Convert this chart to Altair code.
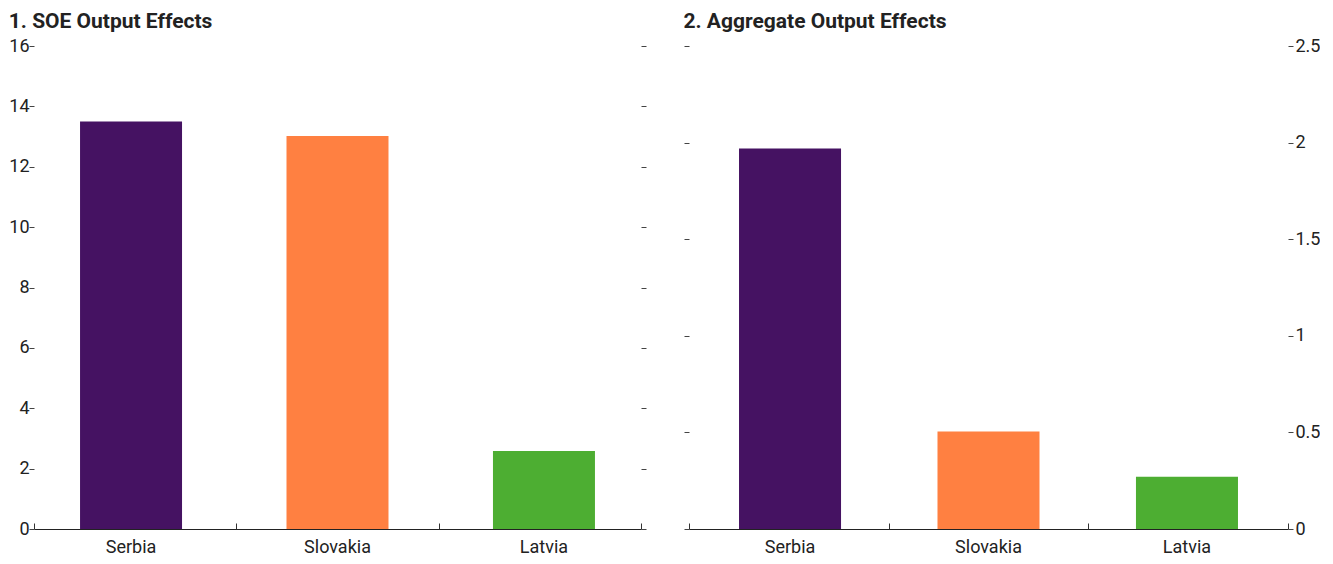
import altair as alt
import pandas as pd

categories = ["Serbia", "Slovakia", "Latvia"]
soe_effects = [13.5, 13.02, 2.58]
aggregate_effects = [1.97, 0.505, 0.27]
bar_colors = ["#451262", "#FF8041", "#4DAE32"]

FONT = "Roboto"
H = 483


def panel(values, title, ymax, step, width, labels_left, pin, pout, lpad):
    df = pd.DataFrame({"country": categories, "value": values})
    base = alt.Chart(df)
    xscale = alt.Scale(paddingInner=pin, paddingOuter=pout)
    yscale = alt.Scale(domain=[0, ymax], nice=False)
    ticks = [round(i * step, 2) for i in range(int(round(ymax / step)) + 1)]
    bars = base.mark_bar().encode(
        x=alt.X("country:N", sort=categories, scale=xscale,
                axis=alt.Axis(title=None, ticks=False, domainColor="#222",
                              domainWidth=1, labelPadding=9, labelAngle=0)),
        y=alt.Y("value:Q", scale=yscale,
                axis=alt.Axis(orient="left", values=ticks, labels=labels_left,
                              title=None, grid=False, domain=False, format="~g",
                              tickSize=5, labelPadding=lpad)),
        color=alt.Color("country:N", scale=alt.Scale(domain=categories, range=bar_colors),
                        legend=None),
    )
    ghost = base.mark_bar(opacity=0).encode(
        x=alt.X("country:N", sort=categories,
                scale=alt.Scale(paddingInner=0, paddingOuter=0),
                axis=alt.Axis(orient="top", offset=-H, labels=False, domain=False,
                              ticks=True, tickBand="extent", tickSize=6, title=None,
                              tickColor="#333")),
        y=alt.Y("value:Q", scale=yscale,
                axis=alt.Axis(orient="right", values=ticks, labels=not labels_left,
                              title=None, grid=False, domain=False, format="~g",
                              tickSize=5, labelPadding=2)),
    )
    return alt.layer(bars, ghost).resolve_scale(x="independent").resolve_axis(
        x="independent", y="independent"
    ).properties(
        width=width, height=H,
        title=alt.TitleParams(title, anchor="start", frame="bounds", fontSize=21,
                              fontWeight="bold", color="#222", font=FONT, offset=5),
    )


left = panel(soe_effects, "1. SOE Output Effects", 16, 2, 607, True, 0.506, 0.223, 0)
right = panel(aggregate_effects, "2. Aggregate Output Effects", 2.5, 0.5, 599, False, 0.486, 0.252, 2)

chart = alt.hconcat(
    left, right, spacing=36,
    padding={"left": 0, "top": 3, "right": 0, "bottom": 0},
).configure_view(
    stroke=None
).configure_axis(
    labelFont=FONT, labelFontSize=18, labelColor="#222", tickColor="#444",
)

chart.save("out.html", embed_options={"renderer": "svg", "actions": False})
